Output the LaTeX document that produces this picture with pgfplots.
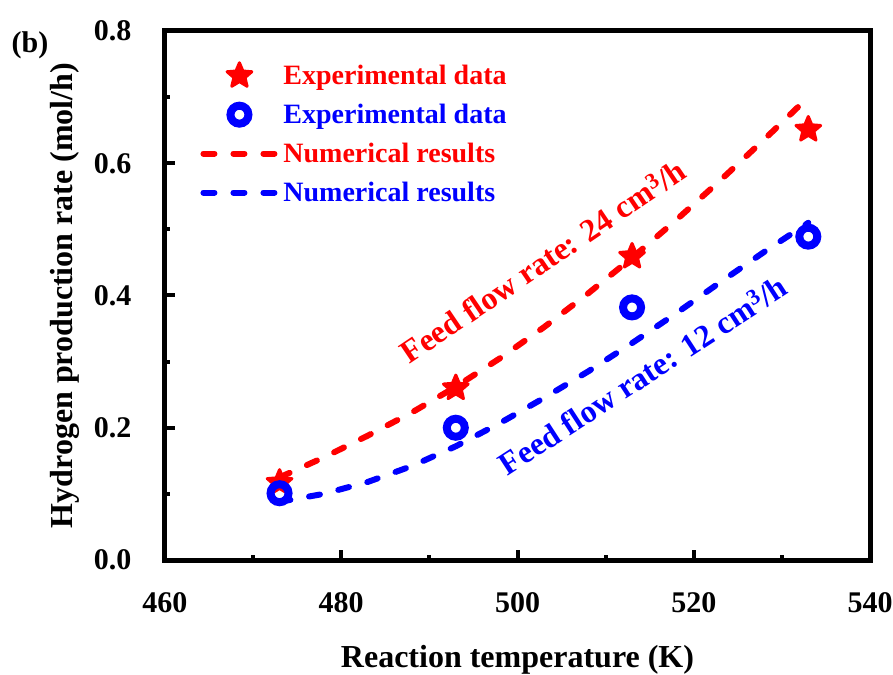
\documentclass[border=0pt]{standalone}
\usepackage{fontspec}
\setmainfont{Liberation Serif}
\usepackage{pgfplots}
\pgfplotsset{compat=1.18}
\pgfdeclareplotmark{fstar}{%
  \pgfpathmoveto{\pgfpointpolar{90}{\pgfplotmarksize}}%
  \pgfpathlineto{\pgfpointpolar{126}{0.45\pgfplotmarksize}}%
  \pgfpathlineto{\pgfpointpolar{162}{\pgfplotmarksize}}%
  \pgfpathlineto{\pgfpointpolar{198}{0.45\pgfplotmarksize}}%
  \pgfpathlineto{\pgfpointpolar{234}{\pgfplotmarksize}}%
  \pgfpathlineto{\pgfpointpolar{270}{0.45\pgfplotmarksize}}%
  \pgfpathlineto{\pgfpointpolar{306}{\pgfplotmarksize}}%
  \pgfpathlineto{\pgfpointpolar{342}{0.45\pgfplotmarksize}}%
  \pgfpathlineto{\pgfpointpolar{18}{\pgfplotmarksize}}%
  \pgfpathlineto{\pgfpointpolar{54}{0.45\pgfplotmarksize}}%
  \pgfpathclose
  \pgfusepathqfillstroke}
\begin{document}
\begin{tikzpicture}
\path[use as bounding box] (-165bp,-115bp) rectangle (728bp,560bp);
\begin{axis}[
  at={(0,0)}, anchor=south west,
  width=705bp, height=529bp, scale only axis,
  xmin=460, xmax=540, ymin=0, ymax=0.8,
  xtick={460,480,500,520,540}, ytick={0,0.2,0.4,0.6,0.8},
  minor x tick num=1, minor y tick num=1,
  tick align=inside, xtick pos=bottom, ytick pos=left,
  major tick length=10bp, minor tick length=5bp,
  every tick/.style={black, line width=4bp},
  axis line style={line width=5bp, line join=miter},
  /pgf/number format/assume math mode=true,
  ticklabel style={font=\fontsize{30bp}{36bp}\selectfont\bfseries},
  xticklabel shift=29bp, yticklabel shift=30bp,
  xticklabel style={/pgf/number format/1000 sep={}},
  yticklabel style={/pgf/number format/fixed, /pgf/number format/precision=1, /pgf/number format/fixed zerofill},
  legend style={at={(axis description cs:0.05,0.945)}, anchor=north west, draw=none, fill=none, inner sep=0pt,
    font=\fontsize{28bp}{34bp}\selectfont\bfseries, row sep=8bp,
    nodes={inner ysep=5bp, inner xsep=5bp}},
  legend cell align=left,
  legend image code/.code={\draw[mark repeat=2,mark phase=2,#1] plot coordinates {(0bp,0bp) (36bp,0bp) (72bp,0bp)};},
  clip=false,
]
\addplot[only marks, mark=fstar, mark size=13bp, red, fill=red, line width=3bp, line join=round] coordinates {
  (473,0.117) (493,0.260) (513,0.459) (533,0.651)};
\addlegendentry{\textcolor{red}{Experimental data}}
\addplot[only marks, mark=o, mark size=9bp, blue, line width=8bp] coordinates {
  (473,0.101) (493,0.200) (513,0.382) (533,0.489)};
\addlegendentry{\textcolor{blue}{Experimental data}}
\addplot[red, line width=6bp, line cap=round, dash pattern=on 11bp off 19bp] coordinates {
  (473,0.125) (478,0.155) (483,0.188) (488,0.223) (493,0.262) (498,0.305) (503,0.352)
  (508,0.403) (513,0.457) (518,0.514) (523,0.574) (528,0.636) (533,0.700)};
\addlegendentry{\textcolor{red}{Numerical results}}
\addplot[blue, line width=6bp, line cap=round, dash pattern=on 11bp off 19bp] coordinates {
  (473,0.088) (478,0.100) (483,0.118) (488,0.142) (493,0.172) (498,0.207) (503,0.245)
  (508,0.285) (513,0.328) (518,0.373) (523,0.420) (528,0.466) (533,0.510)};
\addlegendentry{\textcolor{blue}{Numerical results}}
\node[red, rotate=34, anchor=base, font=\fontsize{32bp}{38bp}\selectfont\bfseries] at (axis cs:503.6,0.438) {Feed flow rate: 24 cm\textsuperscript{3}/h};
\node[blue, rotate=33, anchor=base, font=\fontsize{32bp}{38bp}\selectfont\bfseries] at (axis cs:514.9,0.265) {Feed flow rate: 12 cm\textsuperscript{3}/h};
\node[font=\fontsize{32bp}{38bp}\selectfont\bfseries] at ([yshift=-100bp]axis description cs:0.5,0) {Reaction temperature (K)};
\node[rotate=90, font=\fontsize{32bp}{38bp}\selectfont\bfseries] at ([xshift=-100bp]axis description cs:0,0.5) {Hydrogen production rate (mol/h)};
\node[font=\fontsize{30bp}{36bp}\selectfont\bfseries] at ([xshift=-135bp, yshift=-14bp]axis description cs:0,1) {(b)};
\end{axis}
\end{tikzpicture}
\end{document}
